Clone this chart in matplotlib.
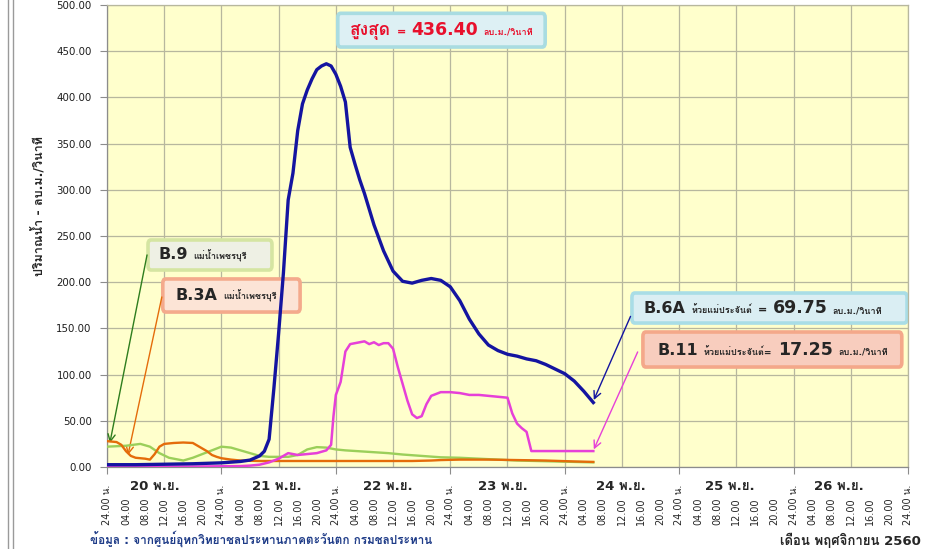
import matplotlib
matplotlib.use("Agg")
import matplotlib.pyplot as plt
from matplotlib import font_manager as fm
from matplotlib.ft2font import FT2Font
from matplotlib.patches import FancyBboxPatch
from matplotlib.offsetbox import TextArea, HPacker, AnnotationBbox
from matplotlib.lines import Line2D

# ---------- Thai-capable font detection ----------
thai_fams = []
for f in fm.fontManager.ttflist:
    if f.name in thai_fams:
        continue
    try:
        cm = FT2Font(f.fname).get_charmap()
    except Exception:
        continue
    if 0x0E01 in cm and 0x0E33 in cm and 0x0E49 in cm:
        thai_fams.append(f.name)
FAMS = ['DejaVu Sans'] + thai_fams[:1]
plt.rcParams['font.family'] = FAMS

# ---------- Data (hours since 20 Nov 00:00) ----------
b6a_t = [0, 6, 12, 18, 24, 28, 30, 32, 33, 34, 35, 36, 37, 38, 39, 40, 41, 42, 43, 44, 45, 46, 47, 48,
         49, 50, 51, 52, 53, 54, 56, 58, 60, 62, 64, 66, 68, 70, 72, 74, 76, 78, 80, 82, 84, 86, 88,
         90, 92, 94, 96, 98, 100, 102]
b6a_v = [2.5, 2.5, 3, 3.5, 4.5, 6, 7.5, 12, 17, 30, 85, 145, 210, 289, 318, 364, 393, 408, 420, 430,
         434, 436.4, 434, 425, 412, 395, 346, 328, 311, 296, 262, 234, 212, 201, 199, 202, 204, 202,
         195, 180, 160, 144, 132, 126, 122, 120, 117, 115, 111, 106, 101, 93, 82, 69.75]

b11_t = [0, 6, 12, 18, 24, 28, 30, 32, 34, 36, 38, 40, 42, 44, 46, 47, 47.5, 48, 49, 50, 51, 52, 53,
         54, 55, 56, 57, 58, 59, 60, 61, 62, 63, 64, 65, 66, 67, 68, 70, 72, 74, 76, 78, 80, 82, 84,
         85, 86, 87, 88, 89, 90, 92, 94, 96, 98, 100, 102]
b11_v = [0.5, 0.5, 0.5, 0.5, 0.8, 1, 1.5, 2.5, 5, 9, 15, 13, 14, 15, 18, 24, 55, 78, 92, 125, 133,
         134, 135, 136, 133, 135, 132, 134, 134, 128, 108, 90, 72, 57, 53, 55, 68, 77, 81, 81, 80,
         78, 78, 77, 76, 75, 58, 47, 42, 38, 17.25, 17.25, 17.25, 17.25, 17.25, 17.25, 17.25, 17.25]

b9_t = [0, 4, 7, 9, 11, 13, 15, 16, 18, 20, 22, 24, 26, 28, 30, 32, 34, 36, 38, 40, 42, 44, 46, 48,
        50, 53, 56, 59, 62, 66, 70, 74, 78, 82, 86, 90, 94, 98, 102]
b9_v = [22, 23, 25, 22, 15, 10, 8, 7, 10, 14, 18, 22, 21, 18, 15, 12, 11, 11, 11, 13, 19, 21.5, 21,
        19, 18, 17, 16, 15, 13.5, 12, 10.5, 10, 9, 8, 7, 6.5, 6, 5.5, 5]

b3a_t = [0, 2, 3, 4, 5, 6, 8, 9, 10, 11, 12, 14, 16, 18, 19, 20, 21, 22, 23, 24, 26, 28, 32, 36, 40,
         48, 56, 64, 68, 70, 74, 80, 86, 92, 98, 102]
b3a_v = [28, 27, 24, 17, 12, 10, 9, 8, 14, 22, 25, 26, 26.5, 26, 23, 20, 17, 13, 11, 9.5, 8, 7, 6.5,
         6.5, 6.5, 6.5, 6.5, 6.5, 7, 7.5, 8, 8, 7.5, 7, 6, 5.5]

day_labels = ['20 พ.ย.', '21 พ.ย.', '22 พ.ย.', '23 พ.ย.', '24 พ.ย.', '25 พ.ย.', '26 พ.ย.']
hour_ticks = list(range(0, 169, 4))
hour_labels = ['24.00 น.' if h % 24 == 0 else '%02d.00' % (h % 24) for h in hour_ticks]
y_ticks = [0, 50, 100, 150, 200, 250, 300, 350, 400, 450, 500]

peak_value = 436.40
b6a_last = 69.75
b11_last = 17.25

# ---------- Figure ----------
fig = plt.figure(figsize=(9.32, 5.49), dpi=100)
fig.patch.set_facecolor('white')
ax = fig.add_axes([107 / 932, 1 - 467 / 549, (908 - 107) / 932, (467 - 5) / 549])
ax.set_facecolor('#FFFFCC')
ax.set_xlim(0, 168)
ax.set_ylim(0, 500)

grid_c = '#B7B79E'
for x in range(0, 169, 12):
    ax.axvline(x, color=grid_c, lw=0.9, zorder=1)
ax.set_yticks(y_ticks)
ax.set_yticklabels(['%.2f' % v for v in y_ticks], fontsize=7.4, color='#1E1E1E')
ax.yaxis.grid(True, color=grid_c, lw=0.9, zorder=1)
ax.set_axisbelow(True)
for s in ax.spines.values():
    s.set_color(grid_c)
    s.set_linewidth(0.9)
ax.spines['left'].set_color('#8C8C8C')
ax.spines['bottom'].set_color('#8C8C8C')
ax.tick_params(axis='y', length=5, color='#8C8C8C', pad=6)

ax.set_xticks(list(range(0, 169, 24)))
ax.set_xticklabels([])
ax.tick_params(axis='x', length=5, color='#8C8C8C')
xt = ax.get_xaxis_transform()
for h, lab in zip(hour_ticks, hour_labels):
    ax.text(h, -0.126, lab, transform=xt, rotation=90, ha='center', va='bottom',
            fontsize=7, color='#262626', clip_on=False)
# day captions sit a little left of each day's centre, as in the source sheet
day_offset = [-2.0, -0.3, -1.2, -1.0, -0.3, -1.3, -2.5]
for i, lab in enumerate(day_labels):
    ax.text(12 + 24 * i + day_offset[i], -0.042, lab, transform=xt, ha='center', va='center',
            fontsize=9.5, fontweight='bold', color='#262626', clip_on=False)

# ---------- Series ----------
ax.plot(b9_t, b9_v, color='#9BCF5A', lw=1.7, zorder=3)
ax.plot(b3a_t, b3a_v, color='#E46C0A', lw=1.7, zorder=3)
ax.plot(b11_t, b11_v, color='#E640D8', lw=1.8, zorder=3.2)
ax.plot(b6a_t, b6a_v, color='#1414A0', lw=2.4, zorder=3.4)

# ---------- Callout boxes ----------
def box(t0, t1, v0, v1, fc, ec):
    p = FancyBboxPatch((t0, v0), t1 - t0, v1 - v0, boxstyle='round,pad=0,rounding_size=0.6',
                       fc=fc, ec=ec, lw=2.6, zorder=2, mutation_aspect=8)
    ax.add_patch(p)

def packed(parts, xy, align=(0.5, 0.5)):
    areas = [TextArea(s, textprops=dict(fontsize=fs, fontweight='bold', color=c)) for s, fs, c in parts]
    hp = HPacker(children=areas, align='baseline', pad=0, sep=4)
    ab = AnnotationBbox(hp, xy, xycoords='data', box_alignment=align, frameon=False, zorder=2.5)
    ax.add_artist(ab)

def arrow(start, tip, color):
    ax.annotate('', xy=tip, xytext=start, xycoords='data', textcoords='data',
                arrowprops=dict(arrowstyle='->', color=color, lw=1.0, shrinkA=0, shrinkB=0,
                                mutation_scale=13), zorder=2.8)

red = '#E8102C'
dark = '#262626'
# Peak
box(48.4, 91.9, 454.5, 491, '#DDF0F4', '#A9DCE1')
packed([('สูงสุด', 12.5, red), ('=', 8, red), ('%.2f' % peak_value, 12.5, red), ('ลบ.ม./วินาที', 6.5, red)],
       (70.2, 472.5))
# B.9
box(8.6, 34.6, 213.2, 245.7, '#EEF0E4', '#D5E5A2')
packed([('B.9', 11.5, dark), ('แม่น้ำเพชรบุรี', 6.5, dark)], (10.8, 229.5), align=(0, 0.5))
arrow((8.4, 229.5), (0.6, 26), '#2E7D1E')
# B.3A
box(11.7, 40.5, 167.7, 203.5, '#FCE4D6', '#F4AA8C')
packed([('B.3A', 11.5, dark), ('แม่น้ำเพชรบุรี', 6.5, dark)], (14.4, 185.6), align=(0, 0.5))
arrow((11.5, 184), (4.4, 13), '#E46C0A')
# B.6A
box(110.1, 167.8, 155.8, 188.3, '#DAEEF3', '#A9DDE6')
packed([('B.6A', 11.5, dark), ('ห้วยแม่ประจันต์', 6.5, dark), ('=', 8, dark), ('%.2f' % b6a_last, 12.5, dark),
        ('ลบ.ม./วินาที', 6.5, dark)], (112.6, 172), align=(0, 0.5))
arrow((109.8, 163), (102.1, 72.5), '#1414A0')
# B.11
box(112.4, 166.7, 108.2, 146.1, '#F8CDBE', '#F4A88A')
packed([('B.11', 11.5, dark), ('ห้วยแม่ประจันต์=', 6.5, dark), ('%.2f' % b11_last, 12.5, dark),
        ('ลบ.ม./วินาที', 6.5, dark)], (115.5, 127), align=(0, 0.5))
arrow((111.3, 124.5), (102.1, 19), '#E640D8')

# ---------- Axis titles / notes ----------
fig.text(38 / 932, 1 - 206 / 549, 'ปริมาณน้ำ - ลบ.ม./วินาที', rotation=90, ha='center', va='center',
         fontsize=9, fontweight='bold', color=dark)
fig.text(90 / 932, 0.004, 'ข้อมูล : จากศูนย์อุทกวิทยาชลประทานภาคตะวันตก กรมชลประทาน',
         ha='left', va='bottom', fontsize=8.5, fontweight='bold', color='#1F3C88')
fig.text(921 / 932, 1 - 540 / 549, 'เดือน พฤศจิกายน 2560', ha='right', va='center',
         fontsize=9.5, fontweight='bold', color=dark)

# chart-area border lines on the left
fig.add_artist(Line2D([8 / 932, 8 / 932], [0, 1], color='#9A9A9A', lw=1.0))
fig.add_artist(Line2D([12.5 / 932, 12.5 / 932], [0, 1], color='#9A9A9A', lw=1.0))

fig.savefig('out.png', dpi=100, facecolor='white')
